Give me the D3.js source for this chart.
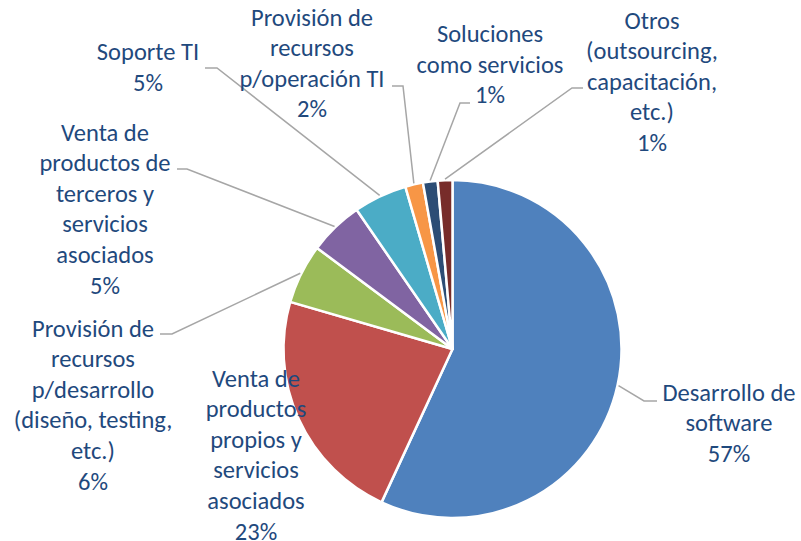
<!DOCTYPE html>
<html><head><meta charset="utf-8">
<script src="https://cdn.jsdelivr.net/npm/d3@7"></script>
<style>body{margin:0;background:#fff}svg{display:block}</style>
</head><body>
<svg id="c" width="801" height="541"></svg>
<script>
const categories = [
  "Desarrollo de software",
  "Venta de productos propios y servicios asociados",
  "Provisión de recursos p/desarrollo (diseño, testing, etc.)",
  "Venta de productos de terceros y servicios asociados",
  "Soporte TI",
  "Provisión de recursos p/operación TI",
  "Soluciones como servicios",
  "Otros (outsourcing, capacitación, etc.)"
];
const values = [56.9, 22.6, 5.7, 5.2, 5.1, 1.7, 1.4, 1.4];
const labelLines = [
  ["Desarrollo de", "software"],
  ["Venta de", "productos", "propios y", "servicios", "asociados"],
  ["Provisión de", "recursos", "p/desarrollo", "(diseño, testing,", "etc.)"],
  ["Venta de", "productos de", "terceros y", "servicios", "asociados"],
  ["Soporte TI"],
  ["Provisión de", "recursos", "p/operación TI"],
  ["Soluciones", "como servicios"],
  ["Otros", "(outsourcing,", "capacitación,", "etc.)"]
];
const percentLabels = ["57%", "23%", "6%", "5%", "5%", "2%", "1%", "1%"];

const colors = ["#4f81bd","#c0504d","#9bbb59","#8064a2","#4bacc6","#f79646","#2c4d75","#772c2a"];
// label layout: text centre x, first line centre y, elbow point, horizontal end
const layout = [
  {tx:729, ty:392, ex:644, ey:401, hx:657},
  {tx:256, ty:378, ex:null},
  {tx:93,  ty:328, ex:172, ey:334, hx:160},
  {tx:105, ty:132, ex:187, ey:169, hx:177},
  {tx:148, ty:51.5, ex:217, ey:68, hx:205},
  {tx:312, ty:17, ex:403, ey:86, hx:392},
  {tx:490, ty:33.5, ex:460, ey:103, hx:470},
  {tx:652, ty:20, ex:572, ey:88, hx:583}
];
const lineH = 30.6;
const cx = 452.5, cy = 349, R = 169;

const svg = d3.select("#c");
const g = svg.append("g").attr("transform", `translate(${cx},${cy})`);
const pie = d3.pie().sort(null).value(d => d)(values);
const arc = d3.arc().innerRadius(0).outerRadius(R);

g.selectAll("path.slice").data(pie).join("path")
  .attr("class","slice")
  .attr("d", arc)
  .attr("fill", (d,i) => colors[i])
  .attr("stroke", "#fff").attr("stroke-width", 2.5).attr("stroke-linejoin","round");

const leaderArc = d3.arc().innerRadius(R + 1).outerRadius(R + 1);
pie.forEach((d, i) => {
  const L = layout[i];
  if (L.ex == null) return;
  const [px, py] = leaderArc.centroid(d);
  svg.append("polyline")
    .attr("points", `${px+cx},${py+cy} ${L.ex},${L.ey} ${L.hx},${L.ey}`)
    .attr("fill","none").attr("stroke","#a6a6a6").attr("stroke-width",1.5);
});

categories.forEach((c, i) => {
  const L = layout[i];
  const lines = labelLines[i].concat([percentLabels[i]]);
  const t = svg.append("text")
    .attr("text-anchor","middle")
    .attr("font-family","Carlito, Lato, 'Open Sans', sans-serif")
    .attr("font-size", 24.5)
    .attr("fill","#1f497d");
  lines.forEach((ln, k) => {
    t.append("tspan").attr("x", L.tx).attr("y", L.ty + k*lineH).attr("dy","0.35em").text(ln);
  });
});
</script>
</body></html>
